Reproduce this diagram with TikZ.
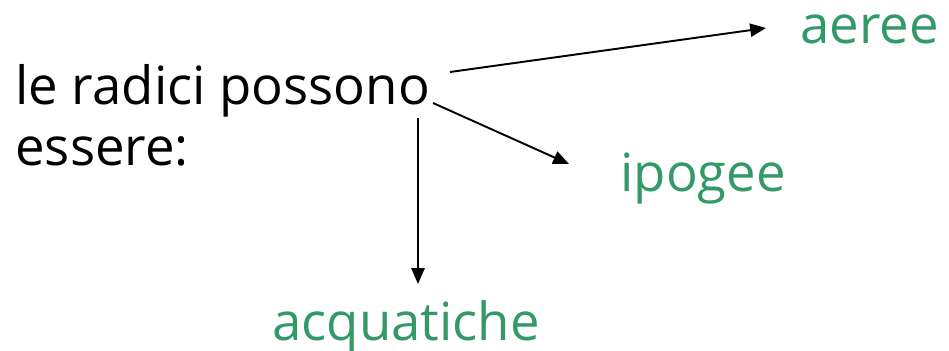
\documentclass[tikz,border=0pt]{standalone}
\usepackage{fontspec}
\setmainfont{Open Sans}
\usetikzlibrary{arrows.meta}
\definecolor{lblgreen}{RGB}{51,153,102}
\begin{document}
\begin{tikzpicture}[x=0.02cm,y=-0.02cm,
  main/.style={font=\fontsize{30}{36}\selectfont, inner sep=0pt, text=black},
  lbl/.style={font=\fontsize{30}{36}\selectfont, inner sep=0pt, text=lblgreen},
  conn/.style={draw=black, line width=1.1pt, -{Triangle[length=9pt,width=7.5pt]}}]
\useasboundingbox (0,0) rectangle (949,351);
\node[main, anchor=base west] (l1) at (15,105) {le radici possono};
\node[main, anchor=base west] (l2) at (15,166) {essere:};
\node[lbl, anchor=base west] (aer) at (800,44) {aeree};
\node[lbl, anchor=base west] (ipo) at (620,192) {ipogee};
\node[lbl, anchor=base west] (acq) at (272,340) {acquatiche};
\coordinate (s1) at (450,72);
\coordinate (t1) at (766,28);
\coordinate (s2) at (433,103);
\coordinate (t2) at (569,164);
\coordinate (s3) at (418,118);
\coordinate (t3) at (418,284);
\draw[conn] (s1) -- (t1);
\draw[conn] (s2) -- (t2);
\draw[conn] (s3) -- (t3);
\end{tikzpicture}
\end{document}
